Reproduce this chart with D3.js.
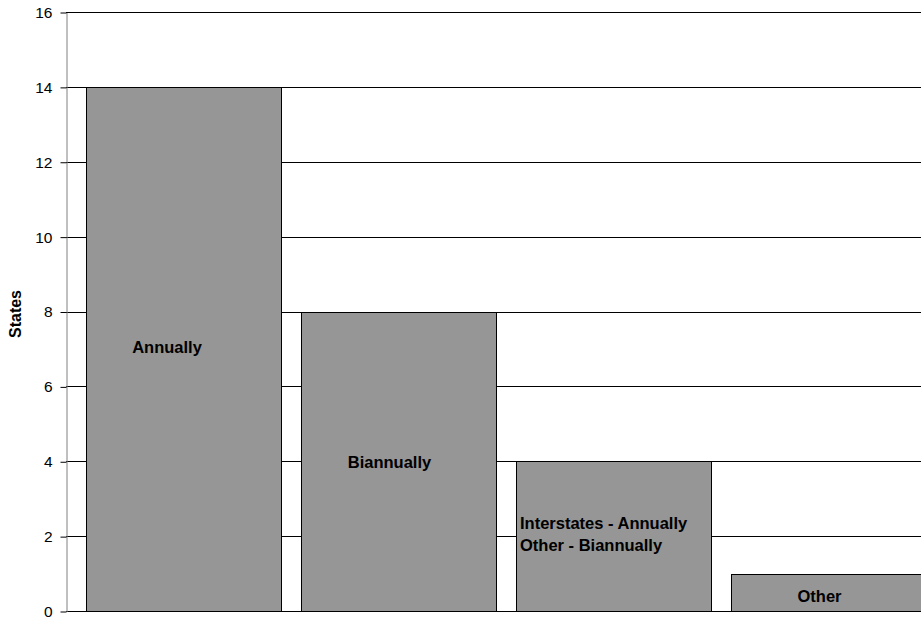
<!DOCTYPE html>
<html>
<head>
<meta charset="utf-8">
<script src="https://cdn.jsdelivr.net/npm/d3@7"></script>
<style>
  html, body { margin: 0; padding: 0; background: #fff; overflow: hidden; }
  svg { display: block; font-family: "Liberation Sans", Arial, sans-serif; }
</style>
</head>
<body>
<svg id="chart" width="921" height="623"></svg>
<script>
// ---- data ----
const categories = ["Annually", "Biannually", "Interstates - Annually / Other - Biannually", "Other"];
const values = [14, 8, 4, 1];
const barLabels = [["Annually"], ["Biannually"], ["Interstates - Annually", "Other - Biannually"], ["Other"]];
const yTicks = [0, 2, 4, 6, 8, 10, 12, 14, 16];
const yTitle = "States";

// ---- layout ----
const svg = d3.select("#chart");
const plotLeft = 66, plotTop = 12, plotBottom = 611;
const x = d3.scaleBand().domain(categories).range([plotLeft, 946]).paddingInner(20 / 215).paddingOuter(20 / 215);
const y = d3.scaleLinear().domain([0, 16]).range([plotBottom, plotTop]);

// gridlines
svg.append("g").selectAll("line").data(yTicks.filter(d => d > 0)).join("line")
  .attr("x1", plotLeft).attr("x2", 946)
  .attr("y1", d => Math.round(y(d)) + 0.5).attr("y2", d => Math.round(y(d)) + 0.5)
  .attr("stroke", "#000").attr("stroke-width", 1);

// bars
svg.append("g").selectAll("rect").data(values).join("rect")
  .attr("x", (d, i) => Math.round(x(categories[i])) + 0.5)
  .attr("y", d => Math.round(y(d)) + 0.5)
  .attr("width", x.bandwidth())
  .attr("height", d => Math.round(y(0)) - Math.round(y(d)))
  .attr("fill", "#969696")
  .attr("stroke", "#000").attr("stroke-width", 1);

// baseline
svg.append("line").attr("x1", plotLeft).attr("x2", 946)
  .attr("y1", Math.round(y(0)) + 0.5).attr("y2", Math.round(y(0)) + 0.5)
  .attr("stroke", "#000");

// y axis
const yAxis = d3.axisLeft(y).tickValues(yTicks).tickSize(6).tickPadding(8).tickSizeOuter(0);
const ga = svg.append("g").attr("transform", `translate(${plotLeft + 0.5},0.5)`).call(yAxis);
ga.select(".domain").attr("stroke", "#808080");
ga.selectAll(".tick line").attr("stroke", "#000");
ga.selectAll(".tick text").attr("font-size", 15.5).attr("fill", "#000")
  .attr("font-family", "'Liberation Sans', Arial, sans-serif");

// y title
svg.append("text")
  .attr("transform", `translate(21,314) rotate(-90)`)
  .attr("text-anchor", "middle")
  .attr("font-size", 16).attr("font-weight", "bold")
  .text(yTitle);

// in-bar labels (positions in data units, matching the original text boxes)
const labelPos = [
  { dx: -16.5, v: 6.9, anchor: "middle" },
  { dx: -9, v: 3.82, anchor: "middle" },
  { dx: 4, v: 2.19, anchor: "start" },
  { dx: -9, v: 0.25, anchor: "middle" }
];
barLabels.forEach((lines, i) => {
  const p = labelPos[i];
  const bx = x(categories[i]);
  const tx = p.anchor === "start" ? bx + p.dx : bx + x.bandwidth() / 2 + p.dx;
  const t = svg.append("text")
    .attr("x", tx).attr("y", y(p.v))
    .attr("text-anchor", p.anchor)
    .attr("font-size", 16.5).attr("font-weight", "bold").attr("fill", "#000");
  lines.forEach((ln, j) => {
    t.append("tspan").attr("x", tx).attr("dy", j === 0 ? 0 : 22).text(ln);
  });
});
</script>
</body>
</html>
